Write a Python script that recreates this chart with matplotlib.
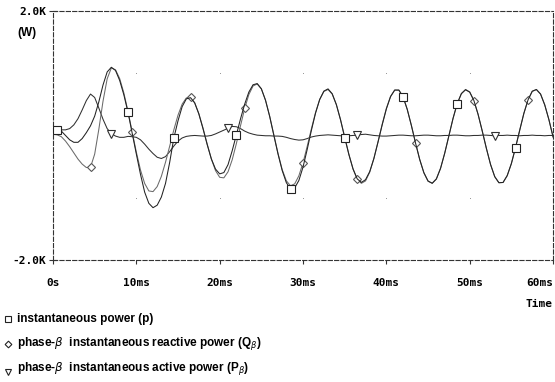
import numpy as np
import matplotlib
matplotlib.use("Agg")
import matplotlib.pyplot as plt
from matplotlib.lines import Line2D

plt.rcParams['lines.scale_dashes'] = False

# time axis in ms, one reading every 0.5 ms (0 .. 60 ms)
t_ms = np.arange(0, 60.25, 0.5)

# instantaneous power p (W)
p_w = [30, 80, 70, 0, -70, -110, -110, -50, 45, 155,
       310, 540, 810, 1020, 1095, 1044, 884, 653, 371, 37,
       -299, -626, -911, -1090, -1160, -1120, -990, -770, -432, -40,
       236, 464, 588, 607, 524, 345, 108, -147, -377, -540,
       -617, -596, -469, -246, 9, 267, 503, 697, 814, 833,
       749, 563, 304, 0, -299, -563, -759, -858, -842, -723,
       -508, -225, 80, 358, 578, 712, 748, 670, 495, 250,
       -34, -306, -538, -697, -754, -710, -581, -371, -105, 171,
       426, 623, 729, 730, 623, 421, 159, -123, -386, -597,
       -731, -768, -700, -530, -285, -6, 276, 513, 672, 734,
       695, 561, 341, 75, -206, -466, -663, -759, -755, -643,
       -451, -194, 83, 356, 572, 711, 738, 665, 490, 255,
       -24]

# phase-beta instantaneous reactive power Q_beta (W)
q_w = [20, 10, -20, -90, -180, -280, -380, -460, -515, -510,
       -300, 100, 550, 910, 1085, 1054, 914, 683, 386, 57,
       -269, -556, -771, -891, -902, -821, -657, -430, -172, 91,
       326, 504, 603, 612, 524, 350, 118, -137, -377, -565,
       -672, -681, -584, -391, -131, 157, 433, 657, 794, 828,
       749, 568, 309, 10, -289, -548, -729, -808, -777, -648,
       -438, -175, 105, 368, 578, 707, 738, 665, 495, 255,
       -24, -301, -538, -702, -769, -730, -591, -371, -100, 181,
       436, 628, 729, 725, 618, 421, 164, -118, -386, -602,
       -736, -768, -695, -525, -285, -6, 271, 508, 672, 739,
       700, 561, 341, 70, -211, -466, -658, -759, -755, -648,
       -451, -194, 88, 356, 572, 706, 738, 665, 495, 255,
       -24]

# phase-beta instantaneous active power P_beta (W)
pb_w = [20, 70, 90, 90, 110, 170, 270, 410, 560, 665,
        610, 440, 260, 110, 30, -10, -30, -30, -15, -20,
        -30, -70, -140, -220, -290, -350, -370, -340, -260, -170,
        -90, -40, -15, -5, 0, -5, -10, -10, 0, 25,
        55, 85, 115, 145, 140, 110, 70, 40, 20, 5,
        0, -5, -5, -10, -10, -15, -30, -50, -65, -75,
        -70, -50, -25, -10, 0, 5, 10, 5, 0, -5,
        -10, -5, 0, 5, 15, 20, 10, 0, -5, -10,
        -10, -5, 0, 5, 5, 0, -5, -5, 0, 5,
        5, 0, -5, -5, 0, 0, 5, 5, 0, -5,
        -5, 0, 0, 5, 5, 0, -5, 0, 0, 5,
        0, 0, -5, 0, 0, 5, 0, 0, -5, 0,
        0]

# where the trace symbols sit (ms)
p_marks = [0.5, 9.0, 14.5, 22.0, 28.5, 35.0, 42.0, 48.5, 55.5]
q_marks = [4.5, 9.5, 16.5, 23.0, 30.0, 36.5, 43.5, 50.5, 57.0]
pb_marks = [7.0, 21.0, 36.5, 53.0]

x_ticks = [0, 10, 20, 30, 40, 50, 60]
x_labels = ['0s', '10ms', '20ms', '30ms', '40ms', '50ms', '60ms']
y_ticks = [-2000, 2000]
y_labels = ['-2.0K', '2.0K']

legend_labels = ['instantaneous power (p)',
                 r'phase-$\beta$  instantaneous reactive power (Q$_{\beta}$)',
                 r'phase-$\beta$  instantaneous active power (P$_{\beta}$)']


def mark_idx(times):
    return [int(round(v / 0.5)) for v in times]


fig = plt.figure(figsize=(5.55, 3.82), dpi=100)
ax = fig.add_axes([0.0955, 0.3194, 0.901, 0.652])

# grid dots at the +-1K lines
gx, gy = np.meshgrid(x_ticks[1:-1], [-1000, 1000])
ax.scatter(gx.ravel(), gy.ravel(), s=0.4, color='#888888', lw=0, zorder=1)

ax.plot(t_ms, pb_w, color='#303030', lw=0.75, marker='v', ms=5.5,
        mfc='white', mec='#303030', mew=0.8, markevery=mark_idx(pb_marks), zorder=3)
ax.plot(t_ms, q_w, color='#6a6a6a', lw=0.75, marker='D', ms=4.2,
        mfc='white', mec='#555555', mew=0.8, markevery=mark_idx(q_marks), zorder=4)
ax.plot(t_ms, p_w, color='#222222', lw=0.75, marker='s', ms=5.5,
        mfc='white', mec='#222222', mew=0.8, markevery=mark_idx(p_marks), zorder=5)

ax.set_xlim(0, 60)
ax.set_ylim(-2000, 2000)

for s in ax.spines.values():
    s.set_linestyle((0, (3.0, 1.6)))
    s.set_linewidth(0.8)
    s.set_color('#333333')

tick_font = dict(family='DejaVu Sans Mono', weight='bold', size=8)
ax.set_xticks(x_ticks)
ax.set_xticklabels(x_labels, fontdict=tick_font)
ax.set_yticks(y_ticks)
ax.set_yticklabels(y_labels, fontdict=tick_font)
ax.xaxis.get_ticklabels()[-1].set_ha('right')
ax.tick_params(axis='x', direction='out', length=3, width=0.8, color='#333333', pad=10)
ax.tick_params(axis='y', direction='inout', length=6, width=0.8, color='#333333', pad=2)

leg_font = dict(family=['Liberation Sans', 'DejaVu Sans'], weight='bold', fontsize=8.5)
fig.text(27 / 555, 1 - 33 / 382, '(W)', ha='center', va='center', **leg_font)
fig.text(552 / 555, 1 - 304 / 382, 'Time', ha='right', va='center', **tick_font)

# legend below the plot
leg_y = [319, 344, 368]
leg_mark = [('s', 4.5, 0), ('D', 3.4, 0), ('v', 4.5, -4)]
for (m, ms, dy), y, lab in zip(leg_mark, leg_y, legend_labels):
    fy = 1 - (y - dy) / 382
    fig.add_artist(Line2D([8 / 555], [fy], marker=m, ms=ms, mfc='white',
                          mec='#222222', mew=0.8, linestyle='none',
                          transform=fig.transFigure))
    fig.text(17 / 555, 1 - y / 382, lab, ha='left', va='center', **leg_font)

fig.savefig('out.png', dpi=100)
